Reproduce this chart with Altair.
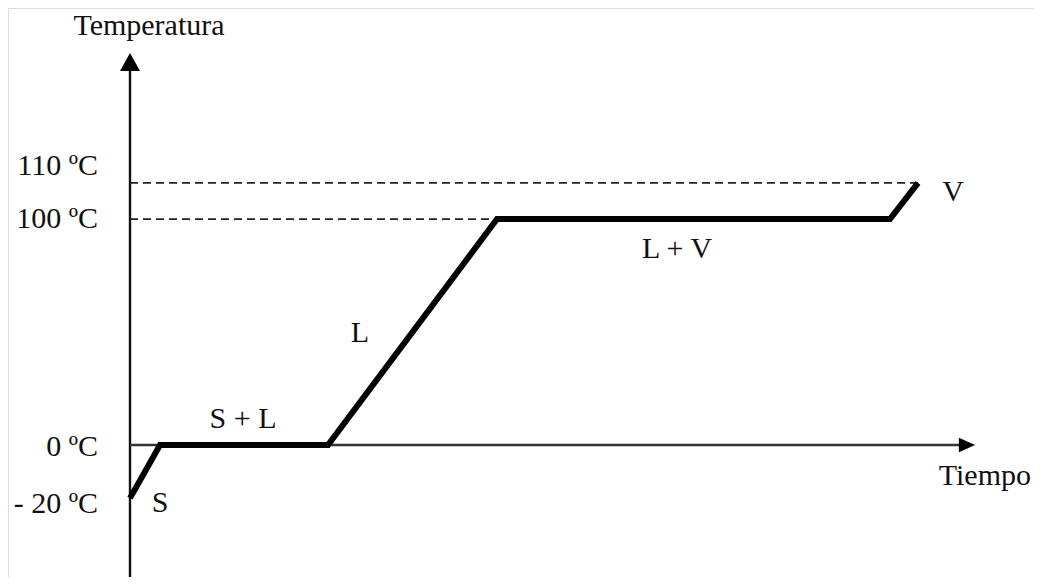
import altair as alt
import pandas as pd

# Heating curve (time in arbitrary units, temperature in diagram units)
curve_t = [0, 3, 19.8, 36.7, 76, 78.8]
curve_T = [-23.5, 0, 0, 100, 100, 116]

# dashed guide lines
guide_T = [116, 100]
guide_t_end = [78.8, 36.7]

# tick labels (text and their vertical positions)
tick_text = ["110 ºC", "100 ºC", "0 ºC", "- 20 ºC"]
tick_pos = [123.5, 100, -1, -26]

# phase labels
phase_text = ["S", "S + L", "L", "L + V", "V"]
phase_t = [3, 11.3, 23, 54.7, 82.3]
phase_T = [-25.5, 11.5, 49.6, 86.7, 112]

# axis titles
title_text = ["Temperatura"]
title_t = [1.9]
title_T = [185.5]
xtitle_text = ["Tiempo"]
xtitle_t = [90.1]
xtitle_T = [-13.5]

X_DOMAIN = [-12.2, 90.4]
Y_DOMAIN = [-58.4, 193.4]
FONT = "Liberation Serif"
FS = 30

xs = alt.Scale(domain=X_DOMAIN, nice=False, zero=False)
ys = alt.Scale(domain=Y_DOMAIN, nice=False, zero=False)

curve = pd.DataFrame({"t": curve_t, "T": curve_T, "o": range(len(curve_t))})
guides = pd.DataFrame({"t0": [0] * len(guide_T), "t1": guide_t_end, "T": guide_T})
ticks = pd.DataFrame({"text": tick_text, "T": tick_pos, "t": [-3.2] * len(tick_text)})
phases = pd.DataFrame({"text": phase_text, "t": phase_t, "T": phase_T})
titles = pd.DataFrame({"text": title_text, "t": title_t, "T": title_T})
xtitles = pd.DataFrame({"text": xtitle_text, "t": xtitle_t, "T": xtitle_T})

# axes
vaxis = pd.DataFrame({"t": [0], "T0": [Y_DOMAIN[0]], "T1": [168]})
haxis = pd.DataFrame({"t0": [0], "t1": [83], "T": [0]})
arrows_v = pd.DataFrame({"t": [0], "T": [169.5]})
arrows_h = pd.DataFrame({"t": [83.7], "T": [0]})

enc_x = lambda f: alt.X(f, type="quantitative", scale=xs, axis=None)
enc_y = lambda f: alt.Y(f, type="quantitative", scale=ys, axis=None)

v_rule = alt.Chart(vaxis).mark_rule(color="#111", strokeWidth=2.4).encode(
    x=enc_x("t"), y=enc_y("T0"), y2="T1")
h_rule = alt.Chart(haxis).mark_rule(color="#333", strokeWidth=2.4).encode(
    x=enc_x("t0"), x2="t1", y=enc_y("T"))
v_arrow = alt.Chart(arrows_v).mark_point(
    shape="M0,-0.9L1,0.9L-1,0.9Z", filled=True, color="#000", opacity=1, size=400
).encode(x=enc_x("t"), y=enc_y("T"))
h_arrow = alt.Chart(arrows_h).mark_point(
    shape="M0.9,0L-0.9,-0.8L-0.9,0.8Z", filled=True, color="#000", opacity=1, size=324
).encode(x=enc_x("t"), y=enc_y("T"))

dashed = alt.Chart(guides).mark_rule(
    color="#222", strokeWidth=1.8, strokeDash=[8, 5]
).encode(x=enc_x("t0"), x2="t1", y=enc_y("T"))

line = alt.Chart(curve).mark_line(
    color="#000", strokeWidth=6, strokeJoin="miter", strokeCap="butt"
).encode(x=enc_x("t"), y=enc_y("T"), order="o:Q")

tick_lbl = alt.Chart(ticks).mark_text(
    font=FONT, fontSize=FS, align="right", baseline="middle", color="#111"
).encode(x=enc_x("t"), y=enc_y("T"), text="text:N")

phase_lbl = alt.Chart(phases).mark_text(
    font=FONT, fontSize=FS, align="center", baseline="middle", color="#111"
).encode(x=enc_x("t"), y=enc_y("T"), text="text:N")

title_lbl = alt.Chart(titles).mark_text(
    font=FONT, fontSize=FS, align="center", baseline="middle", color="#111"
).encode(x=enc_x("t"), y=enc_y("T"), text="text:N")

xtitle_lbl = alt.Chart(xtitles).mark_text(
    font=FONT, fontSize=FS, align="right", baseline="middle", color="#111"
).encode(x=enc_x("t"), y=enc_y("T"), text="text:N")

chart = alt.layer(
    dashed, v_rule, h_rule, v_arrow, h_arrow, line,
    tick_lbl, phase_lbl, title_lbl, xtitle_lbl
).properties(
    width=1026, height=569, padding=0, autosize=alt.AutoSizeParams(type="none")
).configure_view(strokeWidth=0, stroke="transparent").configure(background="white")

chart.save("out.html", embed_options={"renderer": "svg", "actions": False})
